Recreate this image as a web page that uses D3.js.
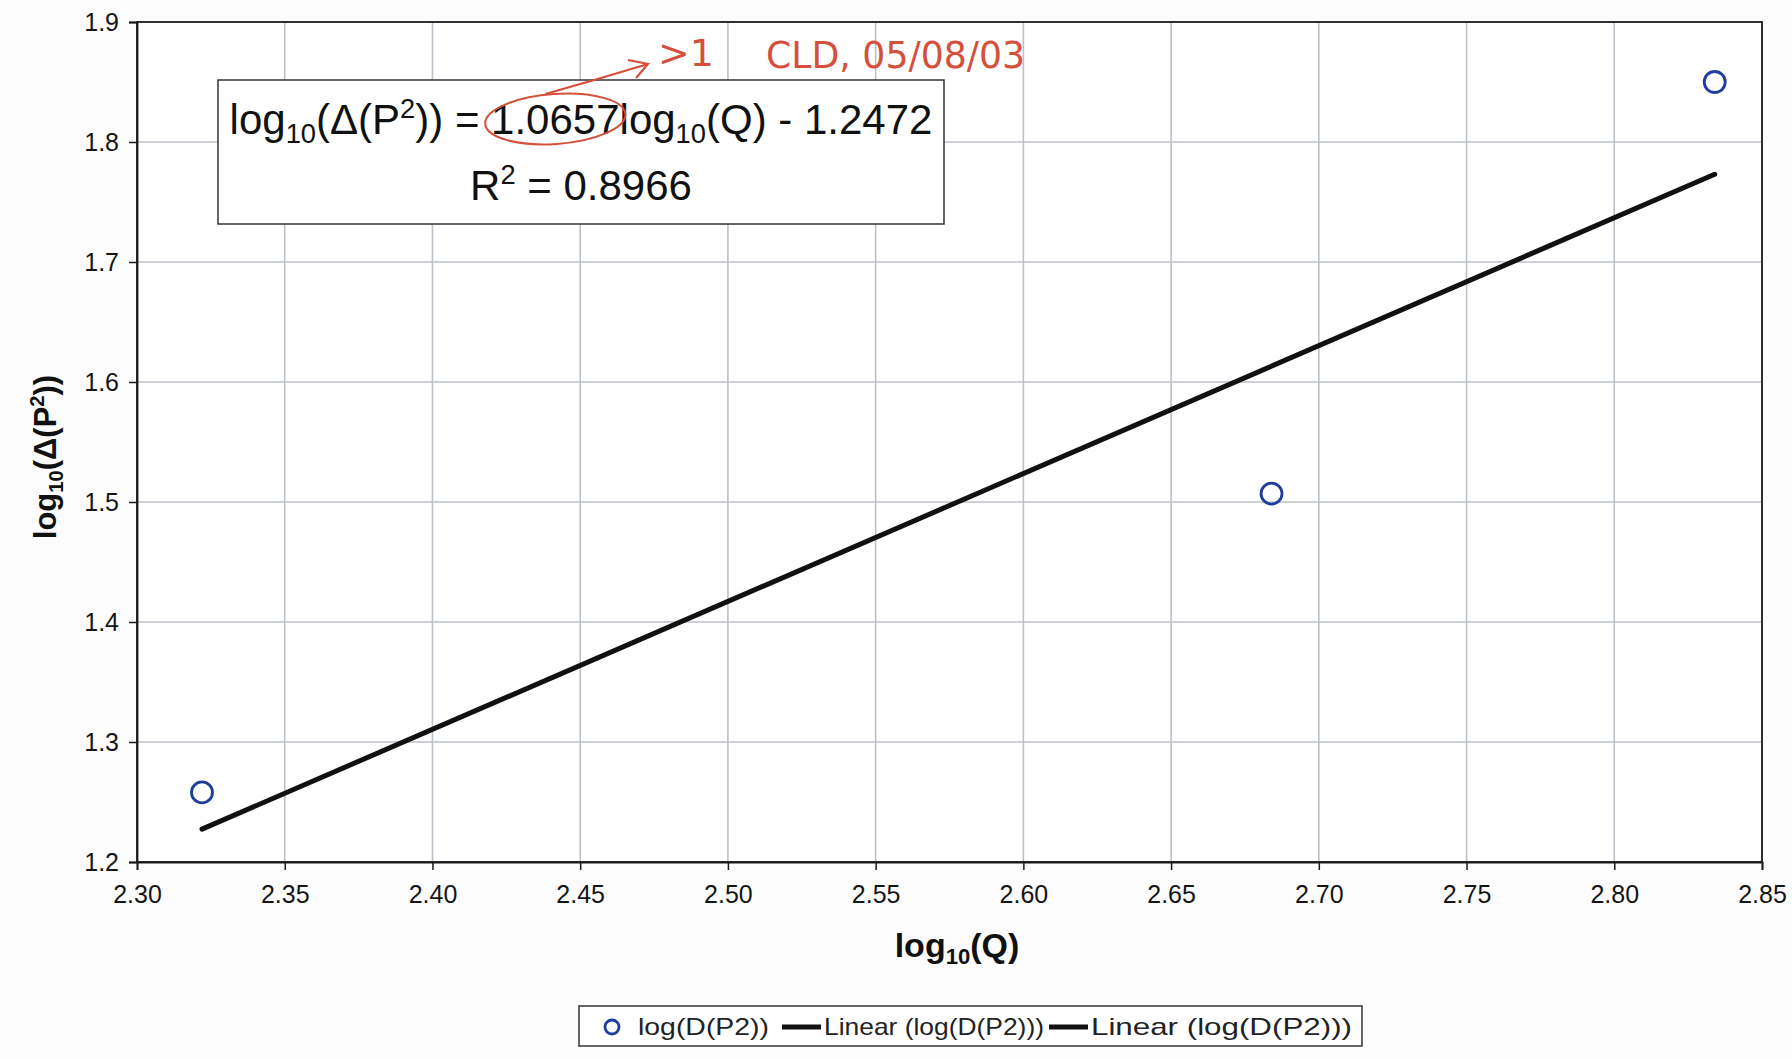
<!DOCTYPE html>
<html>
<head>
<meta charset="utf-8">
<script src="https://cdn.jsdelivr.net/npm/d3@7"></script>
<style>
  html, body { margin: 0; padding: 0; background: #fcfcfc; }
  svg { display: block; font-family: "Liberation Sans", Arial, sans-serif; }
</style>
</head>
<body>
<svg id="chart" width="1792" height="1059"></svg>
<script>
// ---- data ----
const logQ = [2.322, 2.684, 2.834];
const logDP2 = [1.258, 1.507, 1.850];
const trendX = [2.322, 2.834];
const trendY = [1.2274, 1.7731];
const xTicks = [2.30, 2.35, 2.40, 2.45, 2.50, 2.55, 2.60, 2.65, 2.70, 2.75, 2.80, 2.85];
const yTicks = [1.2, 1.3, 1.4, 1.5, 1.6, 1.7, 1.8, 1.9];
const legendLabels = ["log(D(P2))", "Linear (log(D(P2)))", "Linear (log(D(P2)))"];
const slope = "1.0657", intercept = "1.2472", r2 = "0.8966";

const svg = d3.select("#chart");
const L = 137, R = 1762, T = 22, B = 862;
const x = d3.scaleLinear().domain([2.30, 2.85]).range([L, R]);
const y = d3.scaleLinear().domain([1.2, 1.9]).range([B, T]);

// plot background
svg.append("rect").attr("x", L).attr("y", T).attr("width", R - L).attr("height", B - T)
  .attr("fill", "#ffffff");

// gridlines
const grid = svg.append("g");
grid.selectAll("line.v").data(xTicks.slice(1, -1)).join("line")
  .attr("x1", d => x(d)).attr("x2", d => x(d)).attr("y1", T).attr("y2", B)
  .attr("stroke", "#bcc0c9").attr("stroke-width", 1.6);
grid.selectAll("line.h").data(yTicks.slice(1, -1)).join("line")
  .attr("y1", d => y(d)).attr("y2", d => y(d)).attr("x1", L).attr("x2", R)
  .attr("stroke", "#bcc0c9").attr("stroke-width", 1.6);

// frame
svg.append("rect").attr("x", L).attr("y", T).attr("width", R - L).attr("height", B - T)
  .attr("fill", "none").attr("stroke", "#1a1a1a").attr("stroke-width", 1.8);

// axes
const xAxis = svg.append("g").attr("transform", `translate(0,${B})`)
  .call(d3.axisBottom(x).tickValues(xTicks).tickFormat(d3.format(".2f")).tickSize(8).tickPadding(15));
const yAxis = svg.append("g").attr("transform", `translate(${L},0)`)
  .call(d3.axisLeft(y).tickValues(yTicks).tickFormat(d3.format(".1f")).tickSize(8).tickPadding(10));
[[xAxis, 25], [yAxis, 25]].forEach(([a, fs]) => {
  a.attr("font-size", fs).attr("font-family", "'Liberation Sans', Arial, sans-serif");
  a.select(".domain").attr("stroke", "#1a1a1a").attr("stroke-width", 1.8);
  a.selectAll(".tick line").attr("stroke", "#1a1a1a").attr("stroke-width", 1.5);
  a.selectAll(".tick text").attr("fill", "#151515").attr("font-size", fs);
});

// trend line
svg.append("path")
  .datum(trendX.map((d, i) => [d, trendY[i]]))
  .attr("d", d3.line().x(d => x(d[0])).y(d => y(d[1])))
  .attr("stroke", "#111").attr("stroke-width", 5).attr("fill", "none").attr("stroke-linecap", "round");

// points
svg.append("g").selectAll("circle").data(logQ.map((d, i) => [d, logDP2[i]])).join("circle")
  .attr("cx", d => x(d[0])).attr("cy", d => y(d[1])).attr("r", 10.5)
  .attr("fill", "none").attr("stroke", "#1f3d9c").attr("stroke-width", 2.8);

// rich text helper
function rich(g, segs, size) {
  const t = g.append("text").attr("font-size", size);
  let shift = 0;
  segs.forEach(s => {
    const target = s.sub ? size * 0.22 : s.sup ? -size * 0.38 : 0;
    const sp = t.append("tspan").text(s.t).attr("dy", target - shift);
    if (s.sub || s.sup) sp.attr("font-size", size * 0.65);
    shift = target;
  });
  return t;
}

// axis titles
rich(svg, [{t: "log"}, {t: "10", sub: true}, {t: "(Q)"}], 34)
  .attr("x", 957).attr("y", 957).attr("text-anchor", "middle")
  .attr("font-weight", "bold").attr("fill", "#111");

rich(svg.append("g").attr("transform", "translate(56,457) rotate(-90)"),
  [{t: "log"}, {t: "10", sub: true}, {t: "(Δ(P"}, {t: "2", sup: true}, {t: "))"}], 31)
  .attr("x", 0).attr("y", 0).attr("text-anchor", "middle")
  .attr("font-weight", "bold").attr("fill", "#111");

// equation box
svg.append("rect").attr("x", 218).attr("y", 80).attr("width", 726).attr("height", 144)
  .attr("fill", "#ffffff").attr("stroke", "#333").attr("stroke-width", 1.5);
const eq = rich(svg, [{t: "log"}, {t: "10", sub: true}, {t: "(Δ(P"}, {t: "2", sup: true},
  {t: ")) = " + slope + "log"}, {t: "10", sub: true}, {t: "(Q) - " + intercept}], 42)
  .attr("x", 581).attr("y", 134).attr("text-anchor", "middle").attr("fill", "#111");
rich(svg, [{t: "R"}, {t: "2", sup: true}, {t: " = " + r2}], 42)
  .attr("x", 581).attr("y", 200).attr("text-anchor", "middle").attr("fill", "#111");

// handwritten red annotations
const red = "#d4503c";
let ecx = 555, erx = 64;
try {
  const node = eq.node();
  const full = node.textContent;
  const i0 = full.indexOf(slope);
  const a = node.getStartPositionOfChar(i0).x;
  const b = node.getEndPositionOfChar(i0 + slope.length - 1).x;
  ecx = (a + b) / 2; erx = (b - a) / 2 + 6;
} catch (e) {}
svg.append("ellipse").attr("cx", ecx).attr("cy", 119).attr("rx", erx).attr("ry", 25)
  .attr("fill", "none").attr("stroke", red).attr("stroke-width", 2)
  .attr("transform", `rotate(-4,${ecx},119)`);
svg.append("path").attr("d", `M${ecx - 10},94 Q${ecx + 40},80 648,64`)
  .attr("fill", "none").attr("stroke", red).attr("stroke-width", 2.2);
svg.append("path").attr("d", "M628,60 L648,64 L636,78")
  .attr("fill", "none").attr("stroke", red).attr("stroke-width", 2.2);
svg.append("text").attr("x", 658).attr("y", 66).text(">1")
  .attr("textLength", 56).attr("lengthAdjust", "spacingAndGlyphs")
  .attr("font-size", 38).attr("fill", red).attr("font-family", "'DejaVu Sans', sans-serif");
svg.append("text").attr("x", 766).attr("y", 68).text("CLD, 05/08/03")
  .attr("textLength", 259).attr("lengthAdjust", "spacingAndGlyphs")
  .attr("font-size", 38).attr("fill", red).attr("font-family", "'DejaVu Sans', sans-serif");

// legend
const lg = svg.append("g");
lg.append("rect").attr("x", 579).attr("y", 1006).attr("width", 783).attr("height", 40)
  .attr("fill", "#ffffff").attr("stroke", "#333").attr("stroke-width", 1.5);
lg.append("circle").attr("cx", 612).attr("cy", 1027).attr("r", 7)
  .attr("fill", "none").attr("stroke", "#1f3d9c").attr("stroke-width", 2.8);
const lt = [[638, 131], [824, 220], [1091, 261]];
lg.selectAll("text").data(legendLabels).join("text")
  .attr("x", (d, i) => lt[i][0]).attr("y", 1035)
  .attr("textLength", (d, i) => lt[i][1]).attr("lengthAdjust", "spacingAndGlyphs")
  .text(d => d).attr("font-size", 24).attr("fill", "#222");
[[782, 821], [1049, 1088]].forEach(s => {
  lg.append("line").attr("x1", s[0]).attr("x2", s[1]).attr("y1", 1027).attr("y2", 1027)
    .attr("stroke", "#111").attr("stroke-width", 5);
});
</script>
</body>
</html>
